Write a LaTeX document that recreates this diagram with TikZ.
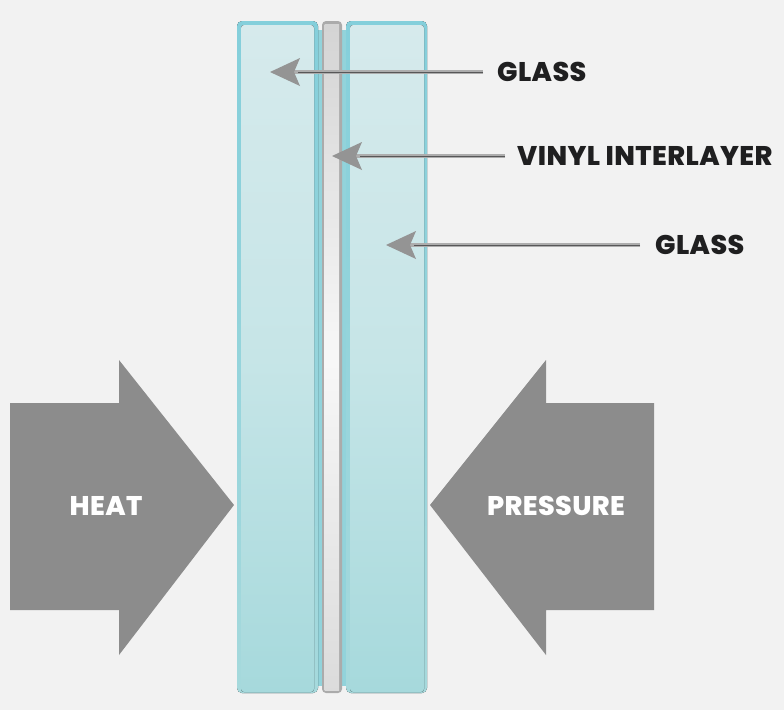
\documentclass[tikz,border=0pt]{standalone}
\usepackage{fontspec}
\setmainfont{Poppins}[BoldFont={Poppins ExtraBold},LetterSpace=1.5]
\usetikzlibrary{arrows.meta,positioning}
\definecolor{bgc}{HTML}{F2F2F2}
\definecolor{bigg}{HTML}{8C8C8C}
\definecolor{inkc}{HTML}{1F1F20}
\definecolor{edgetop}{HTML}{84CFDB}
\definecolor{edgebot}{HTML}{A6D9DC}
\definecolor{glasstop}{HTML}{D6EAEC}
\definecolor{glassmid}{HTML}{C6E5E7}
\definecolor{glassbot}{HTML}{A6D9DC}
\tikzset{
  x=1pt,y=-1pt,
  glassouter/.style={rounded corners=5pt,top color=edgetop,bottom color=edgebot},
  glassinner/.style={rounded corners=3pt,top color=glasstop,bottom color=glassbot,middle color=glassmid},
  bigarrow/.style={fill=bigg,draw=none},
  calloutlabel/.style={font=\bfseries\fontsize{27}{27}\selectfont,text=inkc,inner sep=0pt,anchor=west},
  arrowlabel/.style={font=\bfseries\fontsize{27}{27}\selectfont,text=white,inner sep=0pt},
  leader/.style={draw=black!32,line width=4.5pt,-{Stealth[length=30pt,width=28pt,inset=6pt,color=black!42,fill=black!42,line width=0pt]},
    postaction={draw=inkc!75,line width=1pt,-,shorten >=28pt}},
}
\begin{document}
\begin{tikzpicture}
\useasboundingbox (0,0) rectangle (784,710);
\fill[bgc] (0,0) rectangle (784,710);
% gap between the panes
\fill[edgetop!60!edgebot] (314,30) rectangle (350,686);
% left pane
\fill[glassouter] (237,21) rectangle (318,693);
\fill[glassinner] (241,25) rectangle (314,692);
% right pane
\fill[glassouter] (346,21) rectangle (427,693);
\fill[glassinner] (350,25) rectangle (424,692);
% interlayer
\fill[rounded corners=4pt,fill=black!33] (322,21) rectangle (342,693);
\shade[top color=black!17,bottom color=black!14,middle color=black!3] (324.5,24) rectangle (339,690);
% big arrows
\fill[bigarrow] (10,403) -- (119,403) -- (119,360) -- (234,505) -- (119,655) -- (119,610) -- (10,610) -- cycle;
\fill[bigarrow] (654,403) -- (546,403) -- (546,360) -- (430,505) -- (546,655) -- (546,610) -- (654,610) -- cycle;
\node[arrowlabel] (heat) at (106,506) {HEAT};
\node[arrowlabel] (pressure) at (556,506) {PRESSURE};
% callouts
\node[calloutlabel] (glassa) at (497,72) {GLASS};
\node[calloutlabel] (vinyl) at (517,156) {VINYL INTERLAYER};
\node[calloutlabel] (glassb) at (655,245) {GLASS};
\coordinate (ta) at (270,72);
\coordinate (tb) at (332,156);
\coordinate (tc) at (386,245);
\draw[leader] ([xshift=-14pt]glassa.west) -- (ta);
\draw[leader] ([xshift=-12pt]vinyl.west) -- (tb);
\draw[leader] ([xshift=-15pt]glassb.west) -- (tc);
\end{tikzpicture}
\end{document}
